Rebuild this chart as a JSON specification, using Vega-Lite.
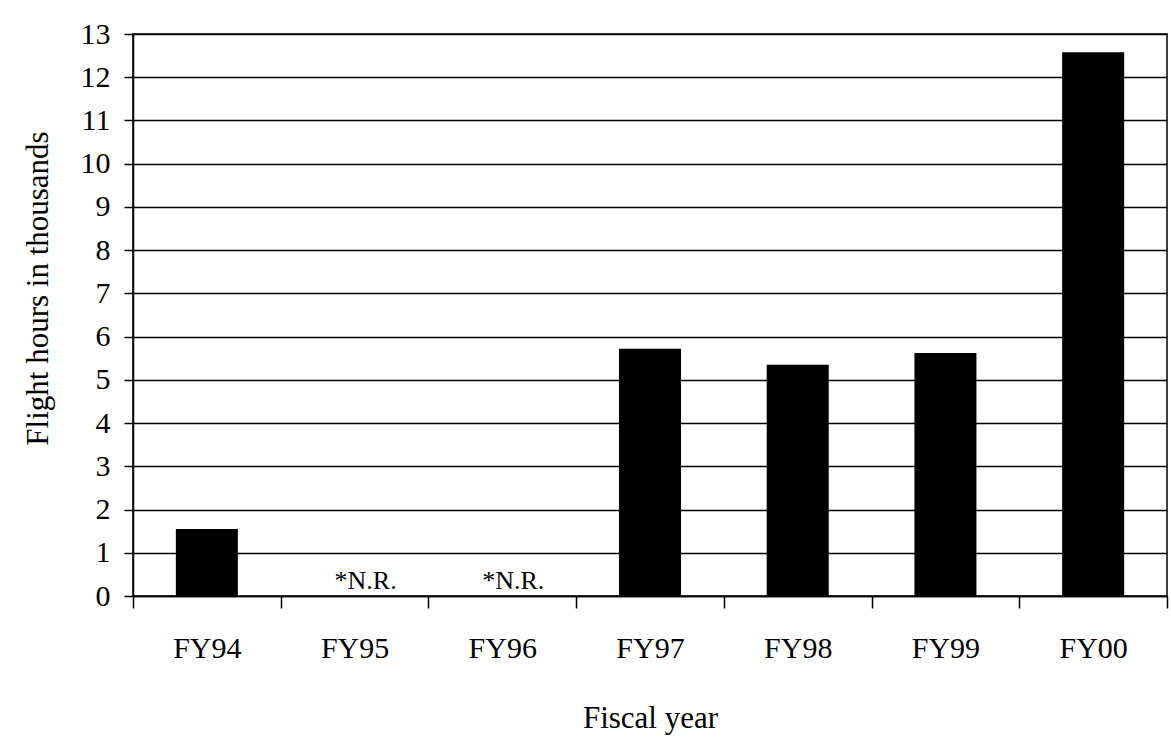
{
  "$schema": "https://vega.github.io/schema/vega-lite/v6.json",
  "width": 1034,
  "height": 562,
  "autosize": {"type": "none"},
  "padding": {"left": 133, "top": 34, "right": 4, "bottom": 150},
  "background": "white",
  "config": {
    "view": {"stroke": "black", "strokeWidth": 1.5},
    "font": "Liberation Serif"
  },
  "data": {
    "values": [
      {"year": "FY94", "hours": 1.55, "note": null},
      {"year": "FY95", "hours": null, "note": "*N.R."},
      {"year": "FY96", "hours": null, "note": "*N.R."},
      {"year": "FY97", "hours": 5.72, "note": null},
      {"year": "FY98", "hours": 5.35, "note": null},
      {"year": "FY99", "hours": 5.62, "note": null},
      {"year": "FY00", "hours": 12.58, "note": null}
    ]
  },
  "layer": [
    {
      "mark": {"type": "bar", "color": "black", "width": {"band": 0.42}},
      "encoding": {
        "x": {
          "field": "year",
          "type": "nominal",
          "sort": null,
          "scale": {
            "domain": ["FY94", "FY95", "FY96", "FY97", "FY98", "FY99", "FY00"],
            "paddingInner": 0,
            "paddingOuter": 0
          },
          "axis": {
            "title": "Fiscal year",
            "labelAngle": 0,
            "tickBand": "extent",
            "grid": false,
            "domainColor": "black",
            "domainWidth": 1.5,
            "tickColor": "black",
            "tickWidth": 1.5,
            "tickSize": 12,
            "labelFont": "Liberation Serif",
            "labelFontSize": 30,
            "labelColor": "black",
            "labelPadding": 25,
            "titleFont": "Liberation Serif",
            "titleFontSize": 31,
            "titleFontWeight": "normal",
            "titleColor": "black",
            "titleBaseline": "alphabetic",
            "titleY": 131
          }
        },
        "y": {
          "field": "hours",
          "type": "quantitative",
          "scale": {"domain": [0, 13], "nice": false},
          "axis": {
            "title": "Flight hours in thousands",
            "values": [0, 1, 2, 3, 4, 5, 6, 7, 8, 9, 10, 11, 12, 13],
            "grid": true,
            "gridColor": "black",
            "gridWidth": 1.5,
            "gridOpacity": 1,
            "domainColor": "black",
            "domainWidth": 1.5,
            "tickColor": "black",
            "tickWidth": 1.5,
            "tickSize": 9,
            "labelFont": "Liberation Serif",
            "labelFontSize": 30,
            "labelColor": "black",
            "labelPadding": 14,
            "titleFont": "Liberation Serif",
            "titleFontSize": 31,
            "titleFontWeight": "normal",
            "titleColor": "black",
            "titleBaseline": "alphabetic",
            "titleAlign": "center",
            "titleAngle": -90,
            "titleX": -86,
            "titleY": 254
          }
        }
      }
    },
    {
      "transform": [{"filter": "datum.note != null"}],
      "mark": {
        "type": "text",
        "font": "Liberation Serif",
        "fontSize": 26,
        "color": "black",
        "baseline": "alphabetic",
        "align": "center",
        "dx": 11,
        "dy": -7
      },
      "encoding": {
        "x": {"field": "year", "type": "nominal", "sort": null},
        "y": {"datum": 0, "type": "quantitative"},
        "text": {"field": "note"}
      }
    }
  ]
}
